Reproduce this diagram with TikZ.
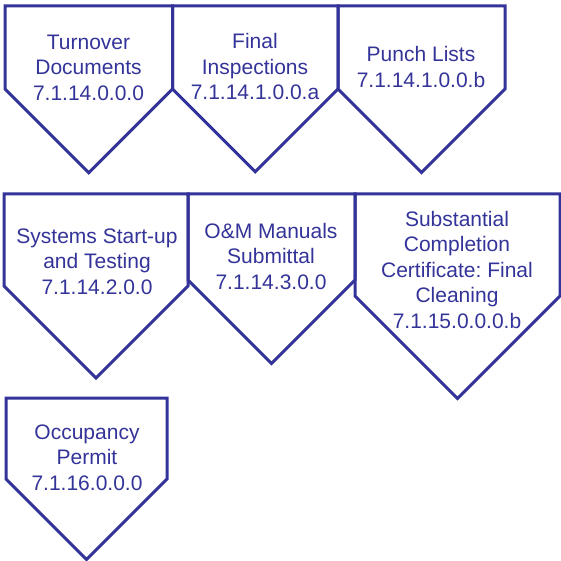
\documentclass[tikz,border=0pt]{standalone}
\usepackage{fontspec}
\setmainfont{Liberation Sans}
\frenchspacing
\definecolor{stageblue}{RGB}{51,51,153}
\tikzset{
  stage/.style={draw=stageblue, line width=3pt},
  stagetext/.style={text=stageblue, align=center, inner sep=0pt,
    font=\fontsize{21}{25.5}\selectfont},
}
\begin{document}
\begin{tikzpicture}[x=1pt,y=-1pt]
    \useasboundingbox (0,0) rectangle (561,561);

    % Pentagon outlines (left/right/top/shoulder), tip at 45 degrees
    \foreach \l/\r/\t/\s in {5/172.5/6/89, 172.5/338/6/89, 338/505/6/89,
        4/188/194/286, 188/355/194/280, 355/560/194/296, 6/167/398/479}
        \draw[stage] (\l,\t) -- (\r,\t) -- (\r,\s) -- ({(\l+\r)/2},{\s+(\r-\l)/2}) -- (\l,\s) -- cycle;

    % First row
    \node[stagetext] (turnover) at (88.5,67.5) {Turnover\\Documents\\7.1.14.0.0.0};
    \node[stagetext] (inspections) at (255,66.5) {Final\\Inspections\\7.1.14.1.0.0.a};
    \node[stagetext] (punch) at (421,67) {Punch Lists\\7.1.14.1.0.0.b};

    % Second row
    \node[stagetext] (startup) at (97,261.5) {Systems Start-up\\and Testing\\7.1.14.2.0.0};
    \node[stagetext] (manuals) at (271,256) {O\&M Manuals\\Submittal\\7.1.14.3.0.0};
    \node[stagetext] (completion) at (457,269.5) {Substantial\\Completion\\Certificate: Final\\Cleaning\\7.1.15.0.0.0.b};

    % Third row
    \node[stagetext] (occupancy) at (87,457.5) {Occupancy\\Permit\\7.1.16.0.0.0};
\end{tikzpicture}
\end{document}
